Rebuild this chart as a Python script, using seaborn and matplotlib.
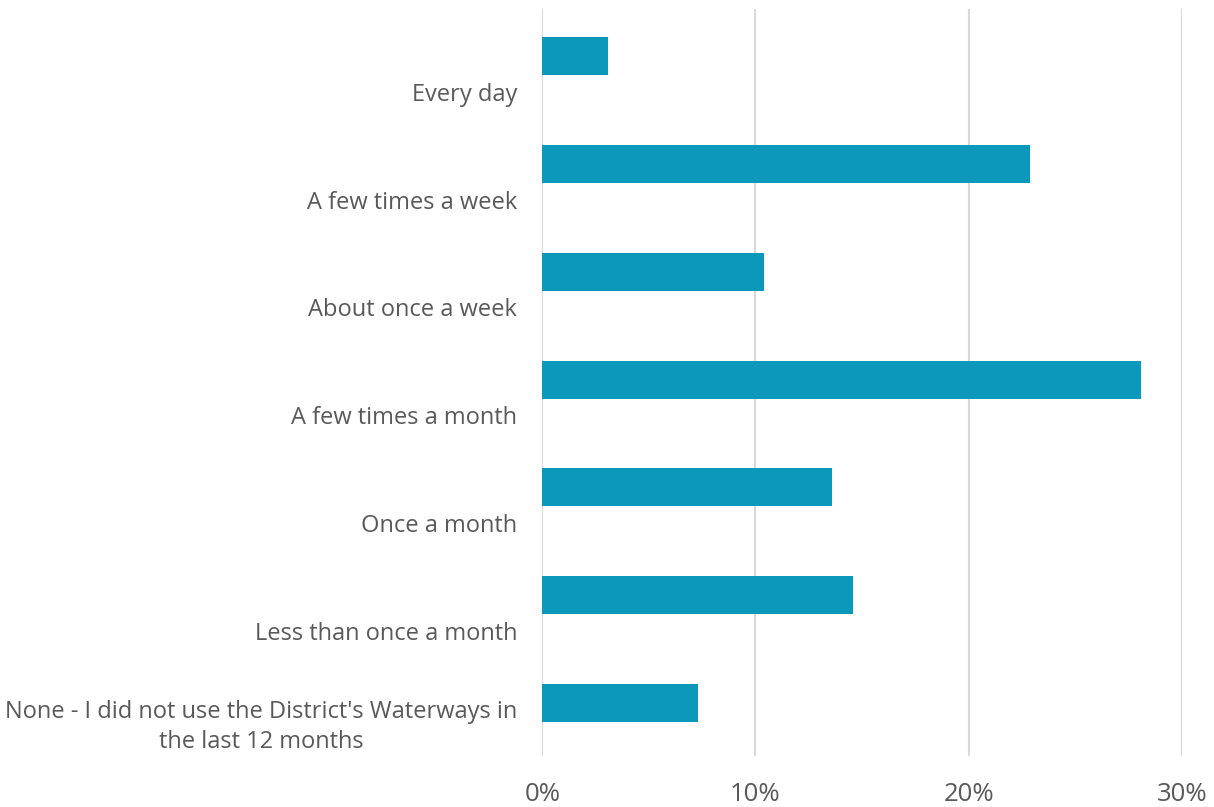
import matplotlib
matplotlib.use("Agg")
import matplotlib.pyplot as plt
from matplotlib.ticker import FuncFormatter, MultipleLocator
import pandas as pd
import seaborn as sns

# Survey responses: how often the District's Waterways were used
categories = [
    "Every day",
    "A few times a week",
    "About once a week",
    "A few times a month",
    "Once a month",
    "Less than once a month",
    "None - I did not use the District's Waterways in\nthe last 12 months",
]
shares = [3.1, 22.9, 10.4, 28.1, 13.6, 14.6, 7.3]  # percent of respondents

BAR_COLOR = "#0C98BB"
TEXT_COLOR = "#595959"
GRID_COLOR = "#D9D9D9"

sns.set_theme(style="white")
plt.rcParams["font.family"] = ["Open Sans", "DejaVu Sans"]

df = pd.DataFrame({"category": categories, "share": shares})

fig = plt.figure(figsize=(12.14, 8.07), dpi=100)
ax = fig.add_axes([542.3 / 1214, 1 - 756 / 807, (1181.7 - 542.3) / 1214, (756 - 9) / 807])

sns.barplot(data=df, x="share", y="category", orient="h", color=BAR_COLOR,
            saturation=1, width=0.352, linewidth=0, ax=ax)

ax.set_xlim(0, 30)
ax.set_ylim(6.49, -0.436)
ax.xaxis.set_major_locator(MultipleLocator(10))
ax.xaxis.set_major_formatter(FuncFormatter(lambda v, _: f"{v:.0f}%"))
ax.grid(axis="x", color=GRID_COLOR, linewidth=1.5)
ax.set_axisbelow(True)
for side in ax.spines.values():
    side.set_visible(False)
ax.set_xlabel("")
ax.set_ylabel("")

# Category labels sit beneath each bar
label_offset = 0.47
ax.set_yticks([i + label_offset for i in range(len(categories))])
ax.set_yticklabels(categories)
ax.tick_params(axis="y", length=0, pad=18, labelsize=17, labelcolor=TEXT_COLOR)
ax.tick_params(axis="x", length=0, pad=19, labelsize=18.5, labelcolor=TEXT_COLOR)
for lab in ax.get_yticklabels():
    lab.set_va("bottom")
    lab.set_multialignment("center")
    lab.set_linespacing(1.3)

fig.savefig("out.png", dpi=100, facecolor="white")
